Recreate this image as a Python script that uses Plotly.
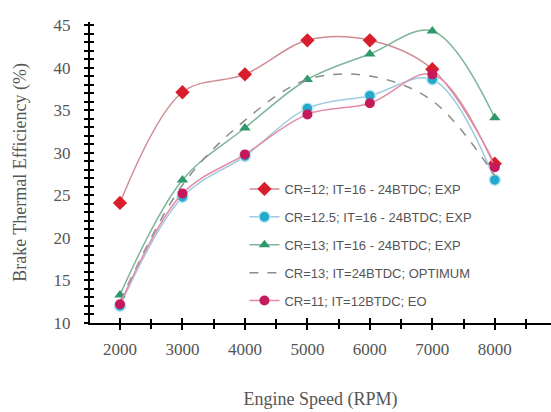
import plotly.graph_objects as go

rpm = [2000, 3000, 4000, 5000, 6000, 7000, 8000]
cr12_exp = [24.1, 37.1, 39.2, 43.2, 43.2, 39.8, 28.7]
cr125_exp = [12.0, 24.8, 29.6, 35.2, 36.7, 38.6, 26.8]
cr13_exp = [13.3, 26.8, 32.9, 38.6, 41.6, 44.3, 34.1]
cr13_opt = [12.5, 26.2, 33.8, 38.6, 39.0, 36.1, 27.3]
cr11_eo = [12.2, 25.2, 29.8, 34.5, 35.8, 39.2, 28.3]

names = [
    "CR=12; IT=16 - 24BTDC; EXP",
    "CR=12.5; IT=16 - 24BTDC; EXP",
    "CR=13; IT=16 - 24BTDC; EXP",
    "CR=13; IT=24BTDC; OPTIMUM",
    "CR=11; IT=12BTDC; EO",
]

fig = go.Figure()

fig.add_trace(go.Scatter(x=rpm, y=cr12_exp, name=names[0], mode="lines+markers",
                         line=dict(color="#cf8d93", width=1.5, shape="spline"),
                         marker=dict(symbol="diamond", size=11, color="#d81e2c"),
                         legendgroup="a"))
fig.add_trace(go.Scatter(x=rpm, y=cr125_exp, name=names[1], mode="lines+markers",
                         line=dict(color="#9fcbe0", width=1.5, shape="spline"),
                         marker=dict(symbol="circle", size=11, color="#23a9cc",
                                     line=dict(color="#bfe6f2", width=1.5)),
                         legendgroup="b"))
fig.add_trace(go.Scatter(x=rpm, y=cr13_exp, name=names[2], mode="lines+markers",
                         line=dict(color="#7fb59b", width=1.5, shape="spline"),
                         marker=dict(symbol="triangle-up", size=10, color="#2f9a69"),
                         legendgroup="c"))
fig.add_trace(go.Scatter(x=rpm, y=cr13_opt, name=names[3], mode="lines",
                         line=dict(color="#8c8c8c", width=1.5, dash="dash", shape="spline"),
                         legendgroup="d"))
fig.add_trace(go.Scatter(x=rpm, y=cr11_eo, name=names[4], mode="lines+markers",
                         line=dict(color="#e38aa6", width=1.5, shape="spline"),
                         marker=dict(symbol="circle", size=10, color="#c4195a"),
                         legendgroup="e"))

# overlay axis to create crossing tick marks
fig.add_trace(go.Scatter(x=[None], y=[None], xaxis="x2", yaxis="y2",
                         showlegend=False, hoverinfo="skip"))

xr = [1520, 8900]
yr = [10, 45.35]
tickfont = dict(family="Liberation Serif", size=17, color="#555555")
titlefont = dict(family="Liberation Serif", size=18, color="#555555")

fig.update_layout(
    width=551, height=412,
    margin=dict(l=90, r=0, t=22, b=89),
    paper_bgcolor="white", plot_bgcolor="white",
    showlegend=True,
    legend=dict(x=0.335, y=0.495, xanchor="left", yanchor="top",
                bgcolor="rgba(0,0,0,0)", traceorder="grouped", tracegroupgap=8,
                font=dict(family="Liberation Sans", size=13, color="#555555")),
    xaxis=dict(range=xr, tickvals=rpm, showgrid=False, zeroline=False,
               showline=True, linecolor="black", linewidth=2,
               ticks="outside", ticklen=5, tickwidth=1.5, tickcolor="black",
               minor=dict(dtick=500, tick0=1500, ticks="outside", ticklen=4, tickcolor="black"),
               tickfont=tickfont, ticklabelstandoff=5,
               title=dict(text="Engine Speed (RPM)", standoff=34, font=titlefont)),
    yaxis=dict(range=yr, tickvals=[10, 15, 20, 25, 30, 35, 40, 45], showgrid=False,
               zeroline=False, showline=True, linecolor="black", linewidth=2,
               ticks="outside", ticklen=4, tickwidth=1.5, tickcolor="black",
               minor=dict(dtick=1, tick0=10, ticks="outside", ticklen=4, tickcolor="black"),
               tickfont=tickfont, ticklabelstandoff=10,
               title=dict(text="Brake Thermal Efficiency (%)", standoff=22, font=titlefont)),
    xaxis2=dict(range=xr, overlaying="x", tickvals=rpm, showgrid=False, zeroline=False,
                showticklabels=False, ticks="inside", ticklen=5, tickwidth=1.5, tickcolor="black",
                minor=dict(dtick=500, tick0=1500, ticks="inside", ticklen=4, tickcolor="black")),
    yaxis2=dict(range=yr, overlaying="y", tickvals=[10, 15, 20, 25, 30, 35, 40, 45],
                showgrid=False, zeroline=False, showticklabels=False,
                ticks="inside", ticklen=4, tickwidth=1.5, tickcolor="black",
                minor=dict(dtick=1, tick0=10, ticks="inside", ticklen=4, tickcolor="black")),
)

fig.write_html("out.html")
